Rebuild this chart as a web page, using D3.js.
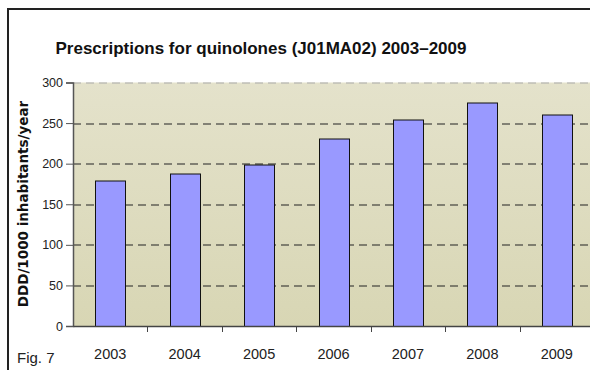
<!DOCTYPE html>
<html>
<head>
<meta charset="utf-8">
<script src="https://cdn.jsdelivr.net/npm/d3@7"></script>
<style>
  body { margin: 0; background: #fff; }
  svg { display: block; font-family: "Liberation Sans", Arial, sans-serif; }
</style>
</head>
<body>
<svg id="chart" width="590" height="370"></svg>
<script>
const years = ["2003", "2004", "2005", "2006", "2007", "2008", "2009"];
const ddd = [179, 188, 199, 231, 255, 275, 261];
const yTicks = [0, 50, 100, 150, 200, 250, 300];

const svg = d3.select("#chart");
const margin = { top: 82.5, right: -4, bottom: 44, left: 73 };
const width = 590 - margin.left - margin.right;
const height = 370 - margin.top - margin.bottom;

// outer frame (left + top only visible)
svg.append("rect")
    .attr("x", 8).attr("y", 9)
    .attr("width", 600).attr("height", 400)
    .attr("fill", "none")
    .attr("stroke", "#222")
    .attr("stroke-width", 2);

const defs = svg.append("defs");
const grad = defs.append("linearGradient")
    .attr("id", "bg").attr("x1", 0).attr("y1", 0).attr("x2", 0).attr("y2", 1);
grad.append("stop").attr("offset", "0%").attr("stop-color", "#e4e2cb");
grad.append("stop").attr("offset", "100%").attr("stop-color", "#d8d6b4");

const g = svg.append("g").attr("transform", `translate(${margin.left},${margin.top})`);

const x = d3.scaleBand().domain(years).range([0, width]).paddingInner(0.6).paddingOuter(0.3);
const xb = d3.scaleBand().domain(years).range([0, width]);
const y = d3.scaleLinear().domain([0, 300]).range([height, 0]);

g.append("rect")
    .attr("width", width).attr("height", height)
    .attr("fill", "url(#bg)");

// gridlines
g.selectAll(".grid")
    .data(yTicks.filter(d => d > 0))
    .join("line")
    .attr("class", "grid")
    .attr("x1", 0).attr("x2", width)
    .attr("y1", d => Math.round(y(d)) + 0.5)
    .attr("y2", d => Math.round(y(d)) + 0.5)
    .attr("stroke", d => d === 300 ? "#aaa" : "#222")
    .attr("stroke-dasharray", "8,5");

g.selectAll(".bar")
    .data(ddd)
    .join("rect")
    .attr("class", "bar")
    .attr("x", (d, i) => Math.round(x(years[i])) + 0.5)
    .attr("y", d => Math.round(y(d)) + 0.5)
    .attr("width", Math.round(x.bandwidth()))
    .attr("height", d => height - Math.round(y(d)))
    .attr("fill", "#9999ff")
    .attr("stroke", "#111")
    .attr("stroke-width", 1);

// y axis
const yAxis = g.append("g")
    .call(d3.axisLeft(y).tickValues(yTicks).tickSize(7).tickPadding(3));
yAxis.select(".domain").attr("stroke", "#555").attr("stroke-width", 1.5);
yAxis.selectAll(".tick line").attr("stroke", "#555");
yAxis.selectAll("text").attr("font-size", 12.5).attr("fill", "#222")
    .attr("font-family", "Liberation Sans, Arial, sans-serif");

// x axis with ticks between categories
const xAxis = g.append("g")
    .attr("transform", `translate(0,${height})`)
    .call(d3.axisBottom(xb).tickSize(0).tickPadding(0));
xAxis.select(".domain").attr("stroke", "#444").attr("stroke-width", 1.5);
xAxis.selectAll("text").attr("font-size", 14.5).attr("fill", "#222")
    .attr("font-family", "Liberation Sans, Arial, sans-serif")
    .attr("dy", null).attr("y", 33);
g.selectAll(".xtick")
    .data(years.slice(1))
    .join("line")
    .attr("class", "xtick")
    .attr("x1", d => Math.round(xb(d)) + 0.5)
    .attr("x2", d => Math.round(xb(d)) + 0.5)
    .attr("y1", height).attr("y2", height + 6)
    .attr("stroke", "#444");

svg.append("text")
    .attr("x", 261).attr("y", 54)
    .attr("text-anchor", "middle")
    .attr("font-size", 17).attr("font-weight", "bold")
    .attr("fill", "#111")
    .text("Prescriptions for quinolones (J01MA02) 2003–2009");

svg.append("text")
    .attr("transform", "translate(27.5,204) rotate(-90)")
    .attr("text-anchor", "middle")
    .attr("font-family", "DejaVu Sans, Verdana, sans-serif")
    .attr("font-size", 13.5).attr("font-weight", "bold")
    .attr("fill", "#111")
    .text("DDD/1000 inhabitants/year");

svg.append("text")
    .attr("x", 17).attr("y", 362.5)
    .attr("font-size", 15)
    .attr("fill", "#222")
    .text("Fig. 7");
</script>
</body>
</html>
